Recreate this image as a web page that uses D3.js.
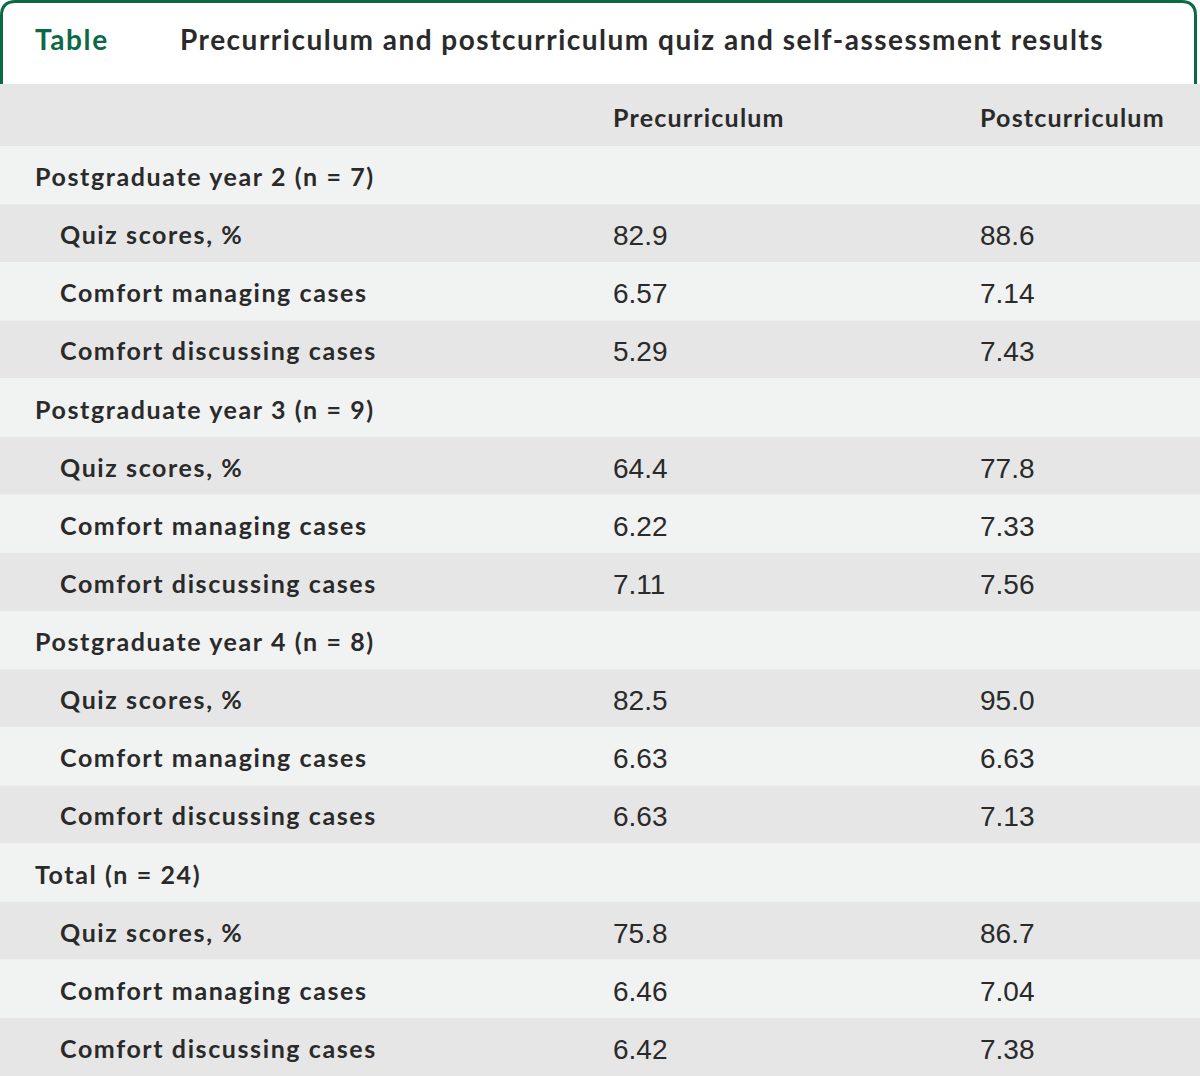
<!DOCTYPE html>
<html><head><meta charset="utf-8">
<script src="https://cdn.jsdelivr.net/npm/d3@7"></script>
<style>body{margin:0;background:#fff}svg{display:block}</style>
</head><body>
<script>
const tableLabel = "Table";
const title = "Precurriculum and postcurriculum quiz and self-assessment results";
const columns = ["Precurriculum", "Postcurriculum"];
const groups = ["Postgraduate year 2 (n = 7)", "Postgraduate year 3 (n = 9)", "Postgraduate year 4 (n = 8)", "Total (n = 24)"];
const measures = ["Quiz scores, %", "Comfort managing cases", "Comfort discussing cases"];
const preValues = [["82.9","6.57","5.29"],["64.4","6.22","7.11"],["82.5","6.63","6.63"],["75.8","6.46","6.42"]];
const postValues = [["88.6","7.14","7.43"],["77.8","7.33","7.56"],["95.0","6.63","7.13"],["86.7","7.04","7.38"]];

const W = 1200, H = 1076;
const green = "#0b6a44", textC = "#2a2a2a", gray = "#e6e6e6", light = "#f1f2f2";
const labelFont = "Lato, 'Open Sans', sans-serif";
const numFont = "'Liberation Sans', Arial, sans-serif";

const rows = [];
groups.forEach((g, gi) => {
  rows.push({type: "group", label: g});
  measures.forEach((m, mi) => rows.push({type: "item", label: m, pre: preValues[gi][mi], post: postValues[gi][mi]}));
});

const svg = d3.select("body").append("svg").attr("width", W).attr("height", H);

// title box
const boxBottom = 84, r = 14, sw = 3;
svg.append("path")
  .attr("d", `M${sw/2},${boxBottom} V${sw/2 + r} Q${sw/2},${sw/2} ${sw/2 + r},${sw/2} H${W - sw/2 - r - 3} Q${W - sw/2 - 3},${sw/2} ${W - sw/2 - 3},${sw/2 + r} V${boxBottom}`)
  .attr("fill", "#fff").attr("stroke", green).attr("stroke-width", sw);
svg.append("text").attr("x", 35).attr("y", 50).attr("fill", green)
  .attr("font-family", labelFont).attr("font-weight", 700).attr("font-size", 28).attr("letter-spacing", 1.6).text(tableLabel);
svg.append("text").attr("x", 180).attr("y", 50).attr("fill", textC)
  .attr("font-family", labelFont).attr("font-weight", 700).attr("font-size", 28).attr("letter-spacing", 1.5).text(title);

// header row
svg.append("rect").attr("x", 0).attr("y", boxBottom).attr("width", W).attr("height", 146 - boxBottom).attr("fill", gray);
const colX = d3.scaleOrdinal().domain(columns).range([613, 980]);
svg.selectAll("text.colh").data(columns).join("text").attr("class", "colh")
  .attr("x", d => colX(d)).attr("y", 127).attr("fill", textC)
  .attr("font-family", labelFont).attr("font-weight", 700).attr("font-size", 25).attr("letter-spacing", 1.2).text(d => d);

const y = d3.scaleBand().domain(d3.range(rows.length)).range([146, H]).padding(0);
const g = svg.selectAll("g.row").data(rows).join("g").attr("class", "row")
  .attr("transform", (d, i) => `translate(0,${y(i)})`);
g.append("rect").attr("width", W).attr("height", y.bandwidth())
  .attr("fill", (d, i) => i % 2 === 0 ? light : gray);
g.append("text").attr("x", d => d.type === "group" ? 35 : 60).attr("y", y.bandwidth() / 2 + 11)
  .attr("fill", textC).attr("font-family", labelFont).attr("font-weight", 700).attr("font-size", 25)
  .attr("letter-spacing", 1.6).text(d => d.label);
g.filter(d => d.type === "item").append("text").attr("x", colX(columns[0])).attr("y", y.bandwidth() / 2 + 12)
  .attr("fill", textC).attr("font-family", numFont).attr("font-size", 28).text(d => d.pre);
g.filter(d => d.type === "item").append("text").attr("x", colX(columns[1])).attr("y", y.bandwidth() / 2 + 12)
  .attr("fill", textC).attr("font-family", numFont).attr("font-size", 28).text(d => d.post);
</script>
</body></html>
